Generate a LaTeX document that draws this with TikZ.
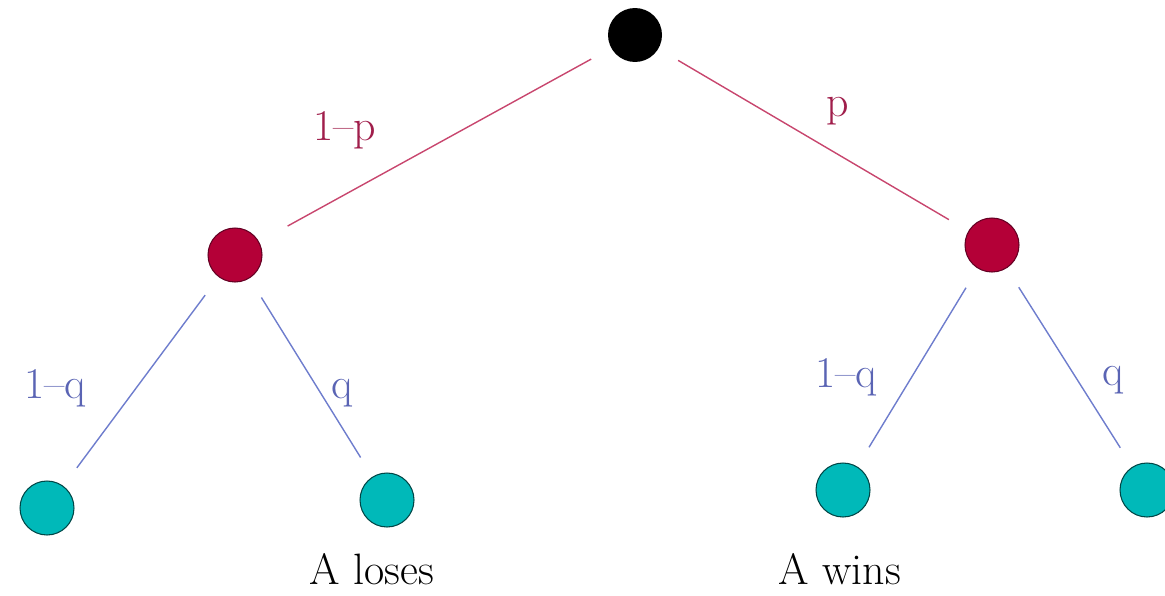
\documentclass[tikz,border=0pt]{standalone}
\definecolor{midfill}{RGB}{180,0,55}
\definecolor{midline}{RGB}{100,0,35}
\definecolor{leaffill}{RGB}{0,185,185}
\definecolor{leafline}{RGB}{0,70,70}
\definecolor{pline}{RGB}{200,70,110}
\definecolor{ptext}{RGB}{160,30,75}
\definecolor{qline}{RGB}{110,125,205}
\definecolor{qtext}{RGB}{90,100,180}
\begin{document}
\begin{tikzpicture}[x=0.02cm,y=-0.02cm,
  dot/.style={circle, minimum size=1.08cm, inner sep=0pt, line width=0.6pt},
  branch/.style={line width=0.8pt, shorten <=0.45cm, shorten >=0.45cm},
  lab/.style={anchor=base, font=\fontsize{25}{30}\selectfont}]
\useasboundingbox (0,0) rectangle (1165,595);
\node[dot, fill=black] (root) at (635,35) {};
\node[dot, fill=midfill, draw=midline] (l) at (235,255) {};
\node[dot, fill=midfill, draw=midline] (r) at (992,245) {};
\node[dot, fill=leaffill, draw=leafline] (ll) at (47,508) {};
\node[dot, fill=leaffill, draw=leafline] (lr) at (387,500) {};
\node[dot, fill=leaffill, draw=leafline] (rl) at (843,490) {};
\node[dot, fill=leaffill, draw=leafline] (rr) at (1147,490) {};

\draw[branch, pline, shorten >=0.65cm] (root) -- (l);
\draw[branch, pline] (root) -- (r);
\draw[branch, qline] (l) -- (ll);
\draw[branch, qline] (l) -- (lr);
\draw[branch, qline] (r) -- (rl);
\draw[branch, qline] (r) -- (rr);

\node[lab, text=ptext] (lp) at (345,140) {1--p};
\node[lab, text=ptext] (rp) at (838,116) {p};
\node[lab, text=qtext] (llq) at (55,398) {1--q};
\node[lab, text=qtext] (lrq) at (342,398) {q};
\node[lab, text=qtext] (rlq) at (846,387) {1--q};
\node[lab, text=qtext] (rrq) at (1113,385) {q};

\node[lab] (lose) at (372,584) {A loses};
\node[lab] (win) at (840,584) {A wins};
\end{tikzpicture}
\end{document}
